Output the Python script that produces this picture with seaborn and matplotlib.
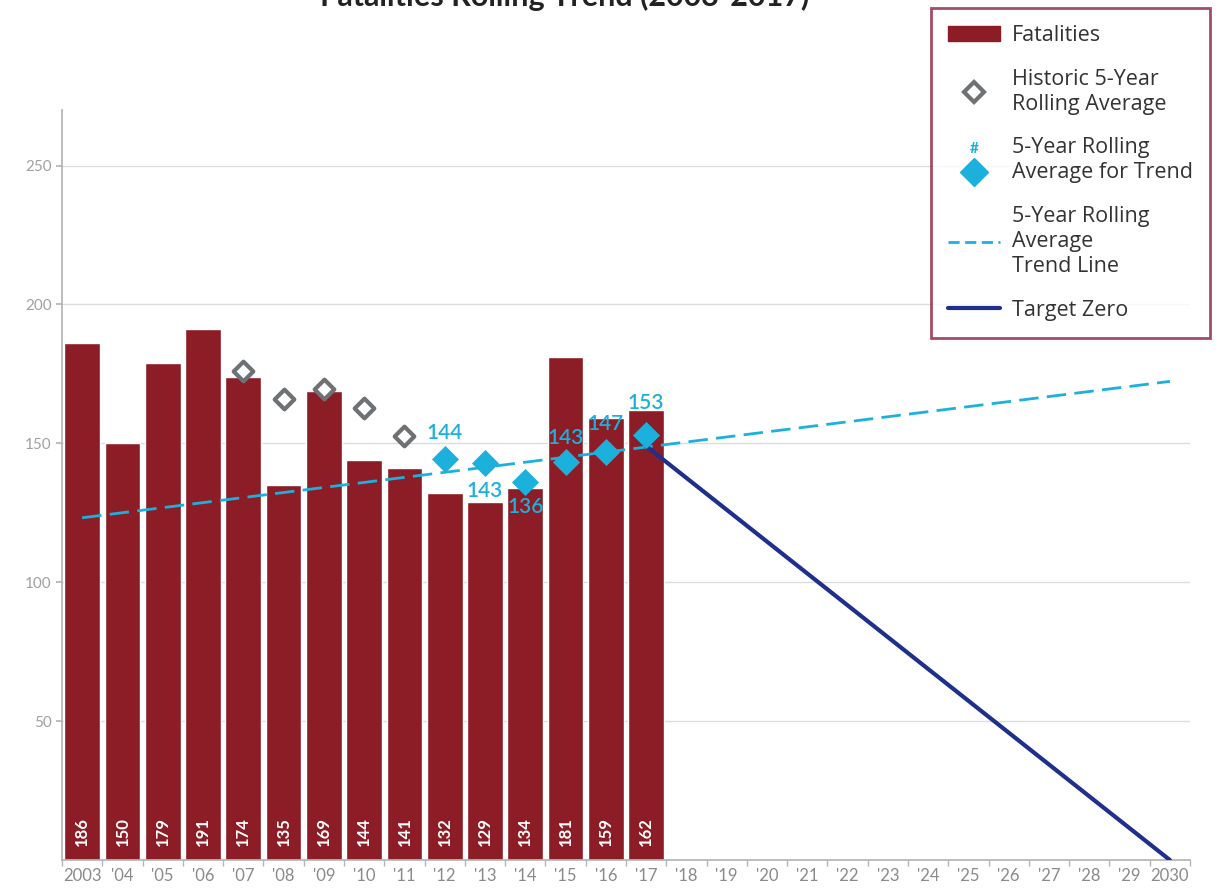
import matplotlib
matplotlib.use("Agg")
import matplotlib.pyplot as plt
from matplotlib.lines import Line2D
from matplotlib.patches import Patch
from matplotlib.legend_handler import HandlerBase
import seaborn as sns
import pandas as pd

# ---- data ----
years = list(range(2003, 2031))
tick_labels = ["2003", "'04", "'05", "'06", "'07", "'08", "'09", "'10", "'11", "'12",
               "'13", "'14", "'15", "'16", "'17", "'18", "'19", "'20", "'21", "'22",
               "'23", "'24", "'25", "'26", "'27", "'28", "'29", "2030"]
fatal_years = list(range(2003, 2018))
fatalities = [186, 150, 179, 191, 174, 135, 169, 144, 141, 132, 129, 134, 181, 159, 162]

hist_years = [2007, 2008, 2009, 2010, 2011]
hist_avg = [176, 165.8, 169.6, 162.6, 152.6]

trend_pt_years = [2012, 2013, 2014, 2015, 2016, 2017]
trend_pt_avg = [144.2, 143, 136, 143.4, 147, 153]
trend_pt_labels = ["144", "143", "136", "143", "147", "153"]

trendline_years = [2003, 2030]
trendline_vals = [123.2, 172.3]

target_years = [2017, 2030]
target_vals = [149, 0]

# ---- style ----
BAR = "#8c1c25"
CYAN = "#1cb1dc"
NAVY = "#1f2f8c"
GRAY_MK = "#6e7275"
TICK_GRAY = "#8a8a8a"

sns.set_theme(style="white")
plt.rcParams["font.family"] = ["Lato", "DejaVu Sans"]

fig = plt.figure(figsize=(12.18, 8.88), dpi=100)
ax = fig.add_axes([62 / 1218, 1 - 860 / 888, (1190 - 62) / 1218, (860 - 110) / 888])

df = pd.DataFrame({"year": [tick_labels[y - 2003] for y in fatal_years],
                   "fatalities": fatalities})
sns.barplot(data=df, x="year", y="fatalities", order=tick_labels, color=BAR,
            saturation=1, width=0.89, ax=ax, zorder=2)

pos = lambda ys: [y - 2003 for y in ys]

# bar value labels
for x, v in zip(pos(fatal_years), fatalities):
    ax.text(x, 5, str(v), rotation=90, ha="center", va="bottom", color="white",
            fontsize=12, fontweight="bold", zorder=5)

# trend line and target line
sns.lineplot(x=pos(trendline_years), y=trendline_vals, ax=ax, color=CYAN,
             linestyle=(0, (7, 3)), linewidth=2, zorder=3)
sns.lineplot(x=pos(target_years), y=target_vals, ax=ax, color=NAVY,
             linewidth=3, zorder=3)

# rolling averages
sns.scatterplot(x=pos(hist_years), y=hist_avg, ax=ax, marker="D", s=100,
                facecolor="white", edgecolor=GRAY_MK, linewidth=3, zorder=4)
sns.scatterplot(x=pos(trend_pt_years), y=trend_pt_avg, ax=ax, marker="D", s=190,
                color=CYAN, edgecolor=CYAN, linewidth=0, zorder=4)

offsets = [9.5, -10, -9, 8.7, 10, 11.4]
for x, v, lab, off in zip(pos(trend_pt_years), trend_pt_avg, trend_pt_labels, offsets):
    ax.text(x, v + off, lab, ha="center", va="center", color=CYAN,
            fontsize=15, fontweight="semibold", zorder=6)

# axes
ax.set_xlim(-0.5, len(years) - 0.5)
ax.set_ylim(0, 270)
ax.set_yticks([50, 100, 150, 200, 250])
ax.set_xticks(range(len(years)))
ax.set_xticklabels(tick_labels)
ax.set_xlabel("")
ax.set_ylabel("")
ax.yaxis.grid(True, color="#dcdcdc", linewidth=1)
ax.set_axisbelow(True)
for s in ["top", "right"]:
    ax.spines[s].set_visible(False)
ax.spines["left"].set_color("#b5b5b5")
ax.spines["bottom"].set_color("#b5b5b5")
ax.tick_params(axis="x", length=0, pad=6, labelsize=12, labelcolor=TICK_GRAY)
ax.tick_params(axis="y", length=4, color="#b5b5b5", direction="out",
               labelsize=11, labelcolor="#a0a0a0", left=True)
ax.set_xticks([i - 0.5 for i in range(len(years) + 1)], minor=True)
ax.tick_params(axis="x", which="minor", length=4, color="#b5b5b5", bottom=True)

# title, running off the top edge
fig.text(565 / 1218, 1 - 6 / 888, "Fatalities Rolling Trend (2003-2017)",
         ha="center", va="baseline", fontsize=22, fontweight="bold", color="#222222")


class HashDiamond(HandlerBase):
    def create_artists(self, legend, orig, xd, yd, width, height, fontsize, trans):
        cx = xd + width / 2
        d = Line2D([cx], [yd - height * 0.25], marker="D", markersize=14,
                   color=CYAN, linestyle="none", transform=trans)
        t = plt.Text(cx, yd + height * 1.3, "#", color=CYAN, fontsize=11,
                     ha="center", va="center", fontweight="bold", transform=trans)
        return [d, t]


handles = [
    Patch(facecolor=BAR, edgecolor=BAR),
    Line2D([], [], marker="D", markersize=10, markerfacecolor="white",
           markeredgecolor=GRAY_MK, markeredgewidth=3, linestyle="none"),
    Line2D([], [], marker="D", color=CYAN, linestyle="none"),
    Line2D([], [], color=CYAN, linestyle=(0, (4, 2)), linewidth=2),
    Line2D([], [], color=NAVY, linewidth=3),
]
labels = ["Fatalities", "Historic 5-Year\nRolling Average",
          "5-Year Rolling\nAverage for Trend", "5-Year Rolling\nAverage\nTrend Line",
          "Target Zero"]
leg = fig.legend(handles, labels, loc="upper right",
                 bbox_to_anchor=(1210 / 1218, 1 - 8 / 888),
                 handler_map={handles[2]: HashDiamond()},
                 prop={"family": ["Open Sans", "DejaVu Sans"], "size": 15.5},
                 frameon=True, fancybox=False, labelspacing=1.05,
                 handlelength=2.4, handletextpad=0.55, borderpad=0.8,
                 borderaxespad=0)
leg.get_frame().set_edgecolor("#8e1f3c")
leg.get_frame().set_linewidth(2)
for t in leg.get_texts():
    t.set_color("#333333")
    t.set_linespacing(1.25)

fig.savefig("out.png", dpi=100)
